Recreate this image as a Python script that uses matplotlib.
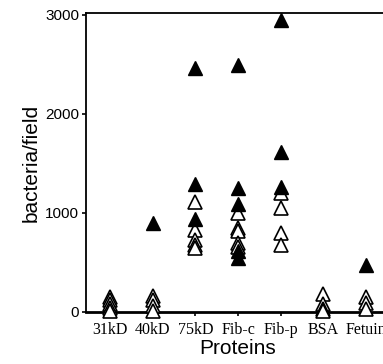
import matplotlib
matplotlib.use('Agg')
import matplotlib.pyplot as plt

# bacteria/field values
proteins = ['31kD', '40kD', '75kD', 'Fib-c', 'Fib-p', 'BSA', 'Fetuin']

filled = {
    '40kD': [900],
    '75kD': [2460, 1290, 940],
    'Fib-c': [2490, 1250, 1090, 620, 550],
    'Fib-p': [2950, 1620, 1260],
    'Fetuin': [470],
}

open_ = {
    '31kD': [150, 120, 80, 40, 10],
    '40kD': [160, 120, 60, 10],
    '75kD': [1110, 830, 730, 680, 650],
    'Fib-c': [1000, 850, 820, 700, 660],
    'Fib-p': [1200, 1050, 800, 680],
    'BSA': [180, 80, 30, 10],
    'Fetuin': [150, 90, 30],
}

fig = plt.figure(figsize=(3.83, 3.64), dpi=100)
# axes run off the right edge, like the cropped original
ax = fig.add_axes([0.2245, 0.1429, 0.794, 0.8214])

for i, p in enumerate(proteins):
    ys = open_.get(p, [])
    ax.plot([i] * len(ys), ys, linestyle='none', marker='^', markersize=9.5,
            markerfacecolor='white', markeredgecolor='black', markeredgewidth=1.2,
            clip_on=False, zorder=3)
    ys = filled.get(p, [])
    ax.plot([i] * len(ys), ys, linestyle='none', marker='^', markersize=9.5,
            color='black', clip_on=False, zorder=4)

ax.set_xlim(-0.56, 6.56)
ax.set_ylim(0, 3020)
ax.set_yticks([0, 1000, 2000, 3000])
ax.set_xticks(range(len(proteins)))
ax.set_xticklabels(proteins, family='Liberation Serif', fontsize=11.5)
for lab in ax.get_yticklabels():
    lab.set_family('Liberation Sans')
    lab.set_fontsize(11)

ax.tick_params(axis='both', direction='out', length=3, width=1.2, pad=2)
ax.tick_params(axis='x', pad=4)
for s in ['left', 'top']:
    ax.spines[s].set_linewidth(1.3)
ax.spines['right'].set_visible(False)
ax.spines['bottom'].set_linewidth(2)

ax.set_ylabel('bacteria/field', family='Liberation Sans', fontsize=15, labelpad=3)
ax.set_xlabel('Proteins', family='Liberation Sans', fontsize=15, labelpad=1)

fig.savefig('out.png', dpi=100)
